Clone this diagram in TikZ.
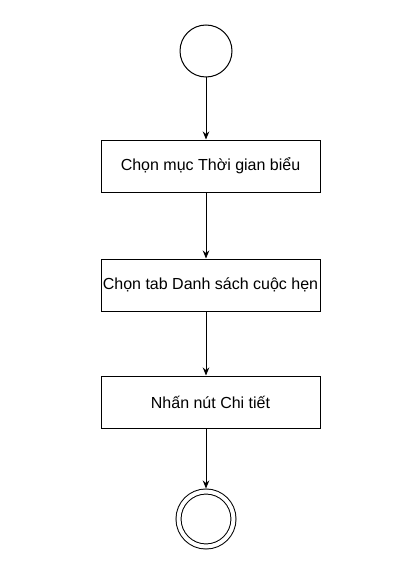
\documentclass[tikz,border=0pt]{standalone}
\usepackage{fontspec}
\setmainfont{Liberation Sans}
\usetikzlibrary{arrows.meta}

\tikzset{
  stepbox/.style={draw, minimum width=219pt, minimum height=52pt, inner sep=0pt,
    font=\fontsize{16}{18}\selectfont},
  flow/.style={-{Stealth[length=8pt,width=6.5pt]}},
}

\begin{document}
\begin{tikzpicture}[x=1pt, y=-1pt, line width=1pt]
		%%%%% START %%%%%
		\useasboundingbox (0,0) rectangle (413,583);
		
		\node[circle, draw, minimum size=52pt, inner sep=0pt] (start) at (206,51) {};
		
		\node[stepbox] (muc) at (210.5,166) {Chọn mục Thời gian biểu};
		\node[stepbox] (tab) at (210.5,285) {Chọn tab Danh sách cuộc hẹn};
		\node[stepbox] (nut) at (210.5,402) {Nhấn nút Chi tiết};
		
		\node[circle, draw, double, double distance=4pt, minimum size=55pt, inner sep=0pt] (stop) at (206,519) {};
		
		\draw[flow] (start) -- (start |- muc.north);
		\draw[flow] (start |- muc.south) -- (start |- tab.north);
		\draw[flow] (start |- tab.south) -- (start |- nut.north);
		\draw[flow, shorten >=2.5pt] (start |- nut.south) -- (stop.north);
		
		%%%%% END %%%%%
\end{tikzpicture}
\end{document}
